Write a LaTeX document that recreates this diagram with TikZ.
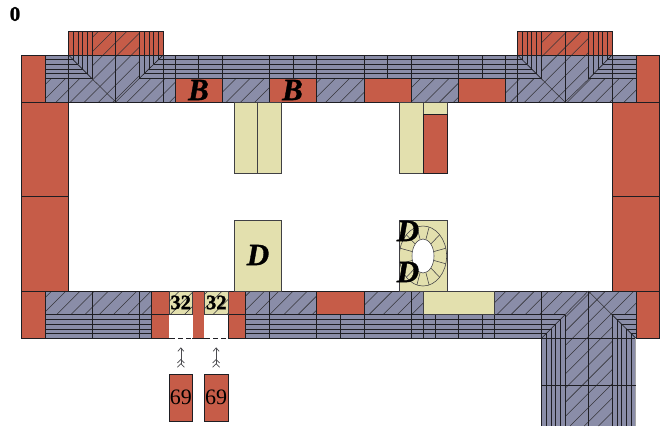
\documentclass[tikz,border=0pt]{standalone}
\usepackage{fontspec}
\setmainfont{Liberation Serif}[BoldFeatures={FakeBold=1.2},BoldItalicFeatures={FakeBold=1}]
\usetikzlibrary{arrows.meta}
\definecolor{slatec}{RGB}{138,141,168}
\definecolor{brick}{RGB}{198,92,72}
\definecolor{straw}{RGB}{227,224,174}
\definecolor{ink}{RGB}{30,30,35}
\tikzset{
  wall/.style={fill=slatec,draw=none},
  brickcell/.style={fill=brick,draw=ink,line width=.7pt},
  strawcell/.style={fill=straw,draw=ink!85,line width=.7pt},
  joint/.style={draw=ink,line width=.65pt},
  hatchline/.style={draw=ink!90,line width=.55pt},
  bigletter/.style={font=\fontsize{31}{31}\selectfont\bfseries\itshape,inner sep=0pt},
  numbold/.style={font=\fontsize{20.5}{20.5}\selectfont\bfseries,inner sep=0pt},
  numbox/.style={fill=brick,draw=ink,line width=.7pt,minimum width=23.7pt,minimum height=47.7pt,inner sep=0pt,font=\fontsize{22}{22}\selectfont},
  doorway/.style={draw=none,fill=white,minimum width=23.7pt,minimum height=23.5pt,inner sep=0pt},
  flow/.style={draw=ink!80,line width=.7pt,{Straight Barb[reversed,length=3.5pt,width=7pt]Straight Barb[reversed,length=3.5pt,width=7pt]}-{Straight Barb[length=3.5pt,width=6pt]},shorten >=9pt,shorten <=6pt}
}
\newcommand{\hatchall}{\foreach \c in {0,...,90}{\draw[hatchline] ({\c*14.2+2},0) -- ({\c*14.2+2-426},426);}}
\begin{document}
\begin{tikzpicture}[x=1pt,y=-1pt]
\useasboundingbox (0,0) rectangle (660,426);
% base walls
\fill[wall] (45,55) rectangle (636,102);
\fill[wall] (45,291) rectangle (636,338);
\fill[wall] (541.7,338) rectangle (635.7,426);
\fill[brick] (68.5,31) rectangle (163.2,55);
\fill[brick] (517.5,31) rectangle (612,55);
% hatching
\begin{scope}
\clip (45,78.7) rectangle (636,102) (92,31) rectangle (139,78.7) (541.3,31) rectangle (589,78.7);
\hatchall
\end{scope}
\begin{scope}
\clip (45,291) rectangle (636,314.7) (565,314.7) rectangle (612,426);
\hatchall
\end{scope}
% top courses
\foreach \y in {59.5,64.2,69,73.8}{
  \draw[joint] (45,\y) -- ({68.5+\y-55},\y);
  \draw[joint] ({163.2-\y+55},\y) -- ({517.5+\y-55},\y);
  \draw[joint] ({612-\y+55},\y) -- (636,\y);
}
\draw[joint] (45,78.7) -- (92,78.7) (139,78.7) -- (541.3,78.7) (589,78.7) -- (636,78.7);
\draw[joint] (45,55) -- (636,55);
\draw[joint] (45,102) -- (636,102);
% tower verticals
\foreach \d in {0,4.7,9.4,14,18.7,23.5}{
  \draw[joint] ({68.5+\d},31) -- ({68.5+\d},{55+\d});
  \draw[joint] ({163.2-\d},31) -- ({163.2-\d},{55+\d});
  \draw[joint] ({517.5+\d},31) -- ({517.5+\d},{55+\d});
  \draw[joint] ({612-\d},31) -- ({612-\d},{55+\d});
}
\draw[joint] (68.5,31) -- (163.2,31) (517.5,31) -- (612,31);
\draw[joint] (68.5,55) -- (92,78.7) (163.2,55) -- (139,78.7);
\draw[joint] (517.5,55) -- (541.3,78.7) (612,55) -- (589,78.7);
\draw[hatchline] (92,78.7) -- (115.7,102) (139,78.7) -- (115.7,102);
\draw[hatchline] (541.3,78.7) -- (565,102) (589,78.7) -- (565,102);
\draw[joint] (68.5,55) -- (68.5,102) (115.7,31) -- (115.7,102) (163.2,55) -- (163.2,102);
\draw[joint] (517.5,55) -- (517.5,102) (565,31) -- (565,102) (612,55) -- (612,102);
\foreach \x in {198.3,293.3,387.7,482.3}{\draw[joint] (\x,55) -- (\x,78.7);}
\foreach \x in {175,222,269.3,316.7,364.3,411.7,458.7,505.7}{\draw[joint] (\x,55) -- (\x,78.7);}
\draw[joint] (222,78.7) -- (222,102) (269.3,78.7) -- (269.3,102) (316.7,78.7) -- (316.7,102) (411.7,78.7) -- (411.7,102) (458.7,78.7) -- (458.7,102) (505.7,78.7) -- (505.7,102);
% bottom courses
\foreach \y in {319.3,324.1,329,333.7}{
  \draw[joint] (45,\y) -- (151.7,\y);
  \draw[joint] (245.7,\y) -- ({541.7+338-\y},\y);
  \draw[joint] ({612+\y-314.7},\y) -- (636,\y);
}
\draw[joint] (45,314.7) -- (151.7,314.7) (245.7,314.7) -- (565,314.7) (612,314.7) -- (636,314.7);
\draw[joint] (45,291) -- (636,291) (45,338) -- (151.7,338) (245.7,338) -- (636,338);
\draw[joint] (612,314.7) -- (635.7,338) (541.7,338) -- (565,314.7);
\draw[hatchline] (588.3,291) -- (612,314.7) (565,314.7) -- (588.3,291);
\foreach \x in {92.3,139.5,269.3,316.7,364,411.7,494}{\draw[joint] (\x,291) -- (\x,338);}
\foreach \x in {340.3,423.3,435,458.7,482.7}{\draw[joint] (\x,314.7) -- (\x,338);}
\draw[joint] (541.7,291) -- (541.7,426) (588.3,291) -- (588.3,426);
\draw[ink!40,line width=.7pt] (635.7,338) -- (635.7,426);
\draw[joint] (541.7,385.7) -- (635.7,385.7);
\foreach \d in {4.7,9.3,14,18.6,23.3}{
  \draw[joint] ({541.7+\d},{338-\d}) -- ({541.7+\d},426);
  \draw[joint] ({635.7-\d},{338-\d}) -- ({635.7-\d},426);
}
% brick cells top
\draw[brickcell] (175,78.7) rectangle (222,102);
\draw[brickcell] (269.3,78.7) rectangle (316.7,102);
\draw[brickcell] (364.3,78.7) rectangle (411.7,102);
\draw[brickcell] (458.7,78.7) rectangle (505.7,102);
% side piers
\draw[brickcell] (21.5,55) rectangle (45,102);
\draw[brickcell] (21.5,102) rectangle (68.5,196);
\draw[brickcell] (21.5,196) rectangle (68.5,291);
\draw[brickcell] (21.5,291) rectangle (45,338);
\draw[brickcell] (636,55) rectangle (659.5,102);
\draw[brickcell] (612,102) rectangle (659.5,196);
\draw[brickcell] (612,196) rectangle (659.5,291);
\draw[brickcell] (636,291) rectangle (659.5,338);
% bottom cells
\draw[brickcell] (316.7,291) rectangle (364,314.7);
\draw[strawcell] (423.3,291) rectangle (494,314.7);
\draw[brickcell] (151.7,291) rectangle (169,314.7);
\draw[brickcell] (151.7,314.7) rectangle (169,338);
\draw[brickcell] (192.7,291) rectangle (204.3,338);
\draw[brickcell] (228,291) rectangle (245.7,314.7);
\draw[brickcell] (228,314.7) rectangle (245.7,338);
\draw[strawcell] (169,291) rectangle (192.7,314.7);
\draw[strawcell] (204.3,291) rectangle (228,314.7);
\begin{scope}
\clip (169,291) rectangle (192.7,314.7) (204.3,291) rectangle (228,314.7);
\hatchall
\end{scope}
\node[doorway] (doorA) at (180.85,326.35) {};
\node[doorway] (doorB) at (216.15,326.35) {};
\draw[ink,line width=.7pt,dash pattern=on 5pt off 3pt] (170,338) -- (192,338) (205,338) -- (227,338);
% straw blocks
\draw[strawcell] (234,102) rectangle (257.7,173.3);
\draw[strawcell] (257.7,102) rectangle (281.7,173.3);
\draw[strawcell] (399.3,102) rectangle (423,173.3);
\draw[strawcell] (423,102) rectangle (447,114);
\draw[brickcell] (423,114) rectangle (447,173.3);
\draw[strawcell] (234,220) rectangle (281.7,291);
\draw[strawcell] (399.3,220) rectangle (447,291);
% ring
\draw[ink!85,line width=.55pt] (423,256) ellipse [x radius=23.6,y radius=30];
\foreach \a in {15,45,...,345}{
  \draw[ink!85,line width=.55pt] ({423+11*cos(\a)},{256+17*sin(\a)}) -- ({423+23.6*cos(\a)},{256+30*sin(\a)});
}
\fill[white,draw=ink!85,line width=.55pt] (423,256) ellipse [x radius=11,y radius=17];
% labels
\node[inner sep=0pt,font=\fontsize{21}{21}\selectfont\bfseries] (zero) at (15,14) {0};
\node[bigletter] (lb1) at (198.5,90) {B};
\node[bigletter] (lb2) at (292.5,90) {B};
\node[bigletter] (ld1) at (408,231) {D};
\node[bigletter] (ld3) at (408,272) {D};
\node[bigletter] (ld2) at (258,255) {D};
\node[numbold] (n1) at (180.7,302.5) {32};
\node[numbold] (n2) at (216.3,302.5) {32};
\node[numbox] (boxA) at (180.85,397.8) {69};
\node[numbox] (boxB) at (216.15,397.8) {69};
\draw[flow] (boxA.north) -- (doorA.south);
\draw[flow] (boxB.north) -- (doorB.south);
\end{tikzpicture}
\end{document}
